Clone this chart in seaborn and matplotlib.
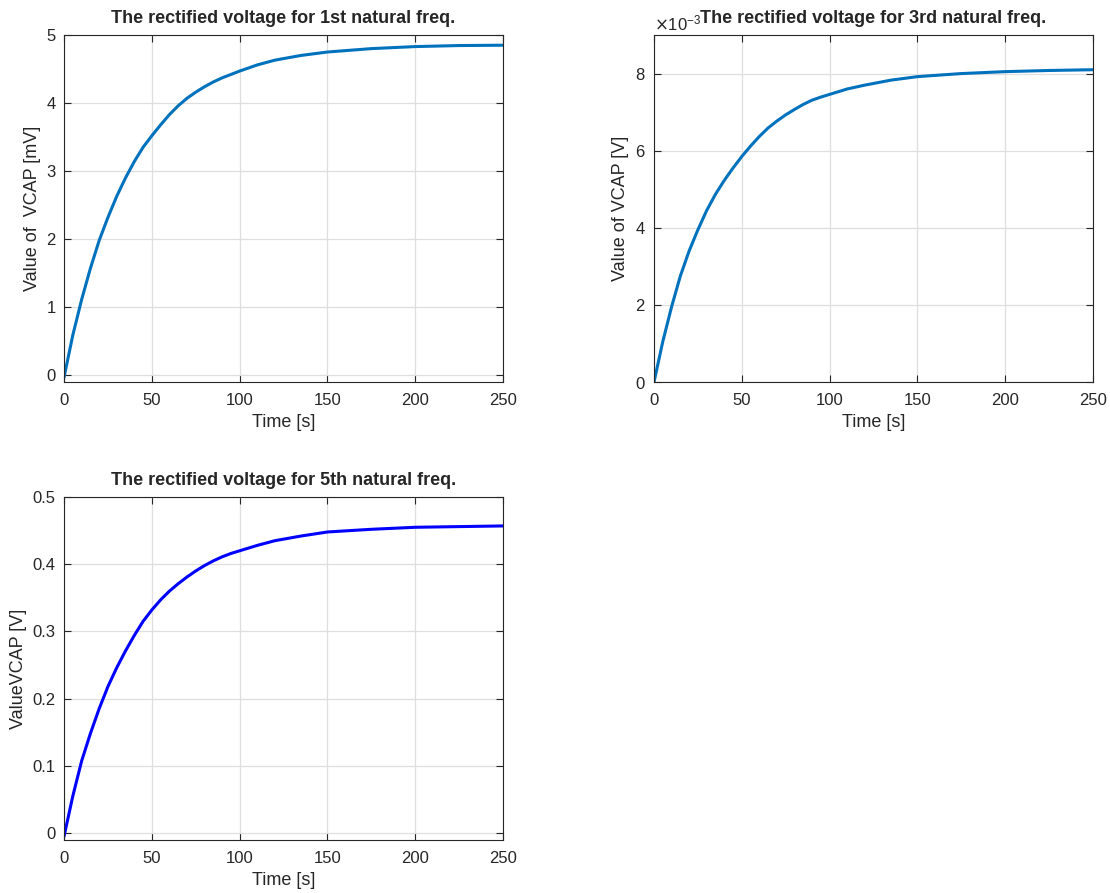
import numpy as np
import pandas as pd
import matplotlib
matplotlib.use("Agg")
import matplotlib.pyplot as plt
import seaborn as sns
from matplotlib.ticker import ScalarFormatter

# values
t_1st = [0, 5, 10, 15, 20, 25, 30, 35, 40, 45, 50, 55, 60, 65, 70, 75, 80, 85, 90, 95,
         100, 110, 120, 135, 150, 175, 200, 225, 250]
v_1st = [-0.03, 0.59, 1.11, 1.57, 1.98, 2.32, 2.63, 2.9, 3.14, 3.35, 3.52, 3.68, 3.83,
         3.96, 4.07, 4.16, 4.24, 4.31, 4.37, 4.42, 4.47, 4.56, 4.63, 4.7, 4.75, 4.8, 4.83,
         4.845, 4.85]  # mV

t_3rd = [0, 5, 10, 15, 20, 25, 30, 35, 40, 45, 50, 55, 60, 65, 70, 75, 80, 85, 90, 95,
         100, 110, 120, 135, 150, 175, 200, 225, 250]
v_3rd = [0, 1.05, 1.95, 2.75, 3.4, 3.95, 4.45, 4.87, 5.23, 5.55, 5.85, 6.12, 6.37, 6.59,
         6.77, 6.93, 7.07, 7.2, 7.31, 7.39, 7.46, 7.6, 7.7, 7.83, 7.92, 8.0, 8.05, 8.08,
         8.1]  # x1e-3 V
v_3rd = [v * 1e-3 for v in v_3rd]

t_5th = [0, 5, 10, 15, 20, 25, 30, 35, 40, 45, 50, 55, 60, 65, 70, 75, 80, 85, 90, 95,
         100, 110, 120, 135, 150, 175, 200, 225, 250]
v_5th = [-0.005, 0.055, 0.107, 0.148, 0.185, 0.218, 0.246, 0.271, 0.294, 0.315, 0.332,
         0.347, 0.36, 0.371, 0.381, 0.39, 0.398, 0.405, 0.411, 0.416, 0.42, 0.428, 0.435,
         0.442, 0.448, 0.452, 0.455, 0.456, 0.457]  # V

sns.set_style("whitegrid")
plt.rcParams['font.family'] = ['Liberation Sans', 'DejaVu Sans']
plt.rcParams['axes.unicode_minus'] = True

fig = plt.figure(figsize=(11.1, 8.93), dpi=100)
ax1 = fig.add_axes([0.0577, 0.5722, 0.3955, 0.3886])
ax2 = fig.add_axes([0.5892, 0.5722, 0.3955, 0.3886])
ax3 = fig.add_axes([0.0577, 0.0594, 0.3955, 0.3840])

dark = "#262626"


def style(ax):
    ax.set_xlim(0, 250)
    ax.set_xticks([0, 50, 100, 150, 200, 250])
    ax.grid(True, color="#dfdfdf", linewidth=0.9)
    for s in ax.spines.values():
        s.set_visible(True)
        s.set_color(dark)
        s.set_linewidth(0.8)
    ax.tick_params(direction="in", length=5, width=0.8, colors=dark,
                   labelsize=12, top=True, right=True, bottom=True, left=True)
    ax.tick_params(axis="x", pad=8)
    ax.tick_params(axis="y", pad=6)
    ax.set_xlabel("Time [s]", fontsize=13, color=dark, labelpad=4)


df1 = pd.DataFrame({"t": t_1st, "v": v_1st})
sns.lineplot(data=df1, x="t", y="v", ax=ax1, color="#0072BD", linewidth=2.2)
style(ax1)
ax1.set_ylim(-0.1, 5)
ax1.set_yticks([0, 1, 2, 3, 4, 5])
ax1.set_ylabel("Value of  VCAP [mV]", fontsize=13, color=dark)
ax1.set_title("The rectified voltage for 1st natural freq.", fontsize=13,
              fontweight="bold", pad=9, y=1.0)

df2 = pd.DataFrame({"t": t_3rd, "v": v_3rd})
sns.lineplot(data=df2, x="t", y="v", ax=ax2, color="#0072BD", linewidth=2.2)
style(ax2)
ax2.set_ylim(0, 9e-3)
ax2.set_yticks([0, 2e-3, 4e-3, 6e-3, 8e-3])
fmt = ScalarFormatter(useMathText=True)
fmt.set_powerlimits((-2, 2))
ax2.yaxis.set_major_formatter(fmt)
ax2.yaxis.get_offset_text().set_fontsize(12)
ax2.yaxis.get_offset_text().set_color(dark)
ax2.set_ylabel("Value of VCAP [V]", fontsize=13, color=dark)
ax2.set_title("The rectified voltage for 3rd natural freq.", fontsize=13,
              fontweight="bold", pad=9, y=1.0)

df3 = pd.DataFrame({"t": t_5th, "v": v_5th})
sns.lineplot(data=df3, x="t", y="v", ax=ax3, color="#0000FF", linewidth=2.2)
style(ax3)
ax3.set_ylim(-0.0104, 0.5)
ax3.set_yticks([0, 0.1, 0.2, 0.3, 0.4, 0.5])
ax3.set_yticklabels(["0", "0.1", "0.2", "0.3", "0.4", "0.5"])
ax3.set_ylabel("ValueVCAP [V]", fontsize=13, color=dark)
ax3.set_title("The rectified voltage for 5th natural freq.", fontsize=13,
              fontweight="bold", pad=9, y=1.0)

fig.savefig("out.png", dpi=100, facecolor="white")
